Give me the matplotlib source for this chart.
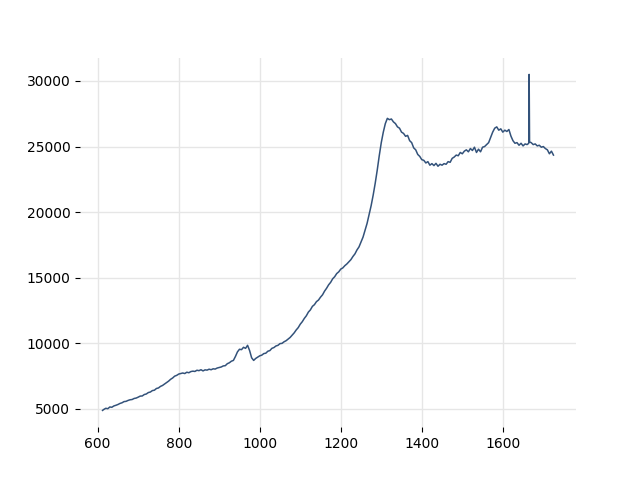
import matplotlib
matplotlib.use("Agg")
import matplotlib.pyplot as plt

wavenumber = [612] + list(range(615, 1661, 5)) + [1664, 1665, 1666] + list(range(1670, 1726, 5))

intensity = [
    # 612-700
    4890, 4960, 5050, 5020, 5150, 5130, 5230, 5280, 5340, 5420,
    5470, 5560, 5580, 5650, 5700, 5720, 5800, 5830, 5900,
    # 705-800
    5980, 5990, 6100, 6140, 6250, 6290, 6400, 6430, 6560, 6600,
    6720, 6790, 6900, 7010, 7120, 7260, 7360, 7500, 7560, 7660,
    # 805-900
    7700, 7740, 7700, 7800, 7760, 7850, 7880, 7860, 7950, 7920,
    7990, 7900, 7980, 7960, 8030, 7990, 8060, 8040, 8120, 8160,
    # 905-1000
    8200, 8280, 8300, 8450, 8520, 8640, 8700, 9000, 9350, 9550,
    9520, 9700, 9620, 9850, 9450, 8900, 8700, 8850, 8950, 9050,
    # 1005-1100
    9100, 9220, 9250, 9400, 9450, 9620, 9680, 9800, 9850, 9980,
    10000, 10120, 10200, 10320, 10450, 10620, 10800, 11020, 11200, 11460,
    # 1105-1200
    11650, 11900, 12100, 12380, 12550, 12820, 12950, 13180, 13300, 13520,
    13700, 13980, 14200, 14460, 14650, 14920, 15080, 15320, 15450, 15660,
    # 1205-1300
    15750, 15920, 16050, 16220, 16380, 16620, 16820, 17120, 17350, 17720,
    18100, 18620, 19150, 19820, 20500, 21300, 22200, 23200, 24300, 25300,
    # 1305-1400
    26100, 26750, 27150, 27050, 27100, 26880, 26750, 26500, 26400, 26100,
    26000, 25780, 25850, 25450, 25300, 24900, 24750, 24400, 24250, 24000,
    # 1405-1500
    23950, 23750, 23850, 23580, 23700, 23550, 23720, 23500, 23650, 23580,
    23700, 23650, 23850, 23800, 24100, 24200, 24350, 24300, 24550, 24450,
    # 1505-1600
    24650, 24750, 24600, 24850, 24700, 24950, 24550, 24800, 24600, 24950,
    25000, 25150, 25300, 25700, 26100, 26400, 26500, 26250, 26350, 26100,
    # 1605-1660
    26250, 26150, 26300, 25800, 25450, 25250, 25300, 25100, 25250, 25050,
    25200, 25150,
    # spike 1664-1666
    25250, 30500, 25350,
    # 1670-1725
    25300, 25150, 25200, 25050, 25100, 24950, 25000, 24850, 24750, 24450,
    24650, 24350,
]

fig, ax = plt.subplots(figsize=(6.4, 4.8), dpi=100)
ax.plot(wavenumber, intensity, color="#33527a", linewidth=1.1)
ax.grid(True, color="#e6e6e6", linewidth=1.0)
ax.set_axisbelow(True)
for s in ax.spines.values():
    s.set_visible(False)
fig.savefig("out.png", dpi=100)
